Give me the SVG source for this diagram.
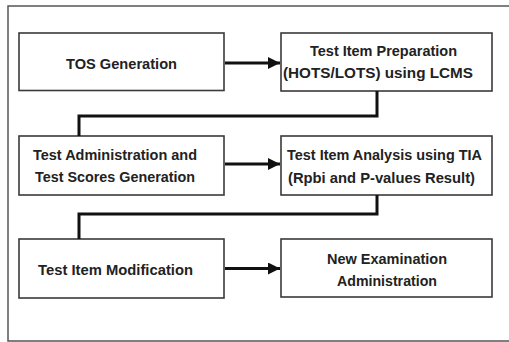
<svg xmlns="http://www.w3.org/2000/svg" width="509" height="342" viewBox="0 0 509 342">
<style>
.box{fill:#fff;stroke:#3a3a3a;stroke-width:1.6}
.t{font-family:"Liberation Sans",Arial,sans-serif;font-weight:bold;font-size:15px;fill:#222;text-anchor:middle}
.c{fill:none;stroke:#111;stroke-width:3}
</style>
<defs>
<marker id="ah" viewBox="0 0 12 12" refX="12" refY="6" markerWidth="12" markerHeight="12" markerUnits="userSpaceOnUse" orient="auto">
<path d="M0,0 L12,6 L0,12 Z" fill="#111"/>
</marker>
</defs>
<rect x="0" y="0" width="509" height="342" fill="#fff"/>
<rect x="8" y="6" width="502" height="335" fill="none" stroke="#555" stroke-width="1.5"/>
<g id="n1"><rect class="box" x="19" y="33" width="205" height="57.5"/><text class="t" x="121.5" y="68.5" textLength="111" lengthAdjust="spacingAndGlyphs">TOS Generation</text></g>
<g id="n2"><rect class="box" x="281" y="33" width="211" height="58"/><text class="t" x="383.5" y="56" textLength="147" lengthAdjust="spacingAndGlyphs">Test Item Preparation</text><text class="t" x="378" y="78" textLength="190" lengthAdjust="spacingAndGlyphs">(HOTS/LOTS) using LCMS</text></g>
<g id="n3"><rect class="box" x="19" y="136" width="205" height="59"/><text class="t" x="115" y="159.5" textLength="164" lengthAdjust="spacingAndGlyphs">Test Administration and</text><text class="t" x="115" y="182" textLength="160" lengthAdjust="spacingAndGlyphs">Test Scores Generation</text></g>
<g id="n4"><rect class="box" x="281" y="136" width="211" height="59"/><text class="t" x="384.5" y="160" textLength="195" lengthAdjust="spacingAndGlyphs">Test Item Analysis using TIA</text><text class="t" x="381.5" y="182.5" textLength="187" lengthAdjust="spacingAndGlyphs">(Rpbi and P-values Result)</text></g>
<g id="n5"><rect class="box" x="19" y="239" width="205" height="59"/><text class="t" x="115.5" y="275" textLength="155" lengthAdjust="spacingAndGlyphs">Test Item Modification</text></g>
<g id="n6"><rect class="box" x="281" y="239" width="211" height="58"/><text class="t" x="387" y="264" textLength="120" lengthAdjust="spacingAndGlyphs">New Examination</text><text class="t" x="387" y="286" textLength="100" lengthAdjust="spacingAndGlyphs">Administration</text></g>
<g id="connectors">
<line class="c" x1="225" y1="63" x2="280" y2="63" marker-end="url(#ah)"/>
<line class="c" x1="225" y1="164" x2="280" y2="164" marker-end="url(#ah)"/>
<line class="c" x1="225" y1="268.5" x2="280" y2="268.5" marker-end="url(#ah)"/>
<path class="c" d="M377 91 V116 H79 V136"/>
<path class="c" d="M377 195 V214 H79 V239"/>
</g>
</svg>
